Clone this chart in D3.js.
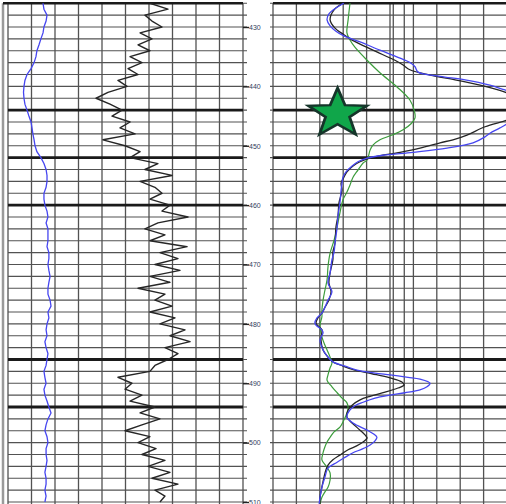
<!DOCTYPE html>
<html>
<head>
<meta charset="utf-8">
<script src="https://cdn.jsdelivr.net/npm/d3@7"></script>
<style>
  html, body { margin: 0; padding: 0; background: #fff; }
  svg { display: block; }
</style>
</head>
<body>
<svg id="log" width="506" height="504"></svg>
<script>
// ---- Depth reference ----
const depthTicks = [430, 440, 450, 460, 470, 480, 490, 500, 510];
const formationTops = [444, 452, 460, 486, 494];

// ---- Track 1: gamma ray (API) and caliper (in), sampled every metre from 426 ----
const logTop = 426;
const gammaRay = [
  90.6, 102.1, 87.4, 91.9, 98.3, 84.3, 91.9, 83.0, 90.6, 77.9,
  85.5, 76.6, 83.0, 70.2, 76.0, 63.8, 56.2, 65.1, 72.8, 66.4,
  77.9, 71.5, 81.1, 60.6, 74.7, 84.3, 77.9, 95.7, 87.4, 104.7,
  84.3, 93.8, 98.3, 90.6, 103.4, 98.3, 114.9, 95.7, 87.4, 100.2,
  90.6, 114.3, 97.0, 108.5, 93.8, 109.8, 90.6, 103.4, 83.0, 100.2,
  93.8, 104.7, 90.6, 106.6, 97.0, 113.0, 103.4, 116.2, 100.2, 108.5,
  102.1, 93.8, 90.6, 70.2, 79.1, 74.7, 85.5, 77.9, 93.8, 84.3,
  97.0, 85.5, 74.7, 90.6, 83.0, 94.5, 85.5, 100.2, 89.4, 103.4,
  91.9, 108.5, 93.8, 100.2, 97.0
];
const caliper = [
  7.49, 7.53, 7.66, 7.62, 7.53, 7.49, 7.40, 7.32, 7.23, 7.19,
  7.11, 6.98, 6.81, 6.72, 6.68, 6.66, 6.68, 6.72, 6.81, 6.89,
  6.98, 7.02, 7.06, 7.11, 7.15, 7.23, 7.40, 7.53, 7.62, 7.66,
  7.66, 7.62, 7.53, 7.53, 7.57, 7.66, 7.70, 7.62, 7.70, 7.70,
  7.70, 7.66, 7.74, 7.74, 7.70, 7.74, 7.79, 7.74, 7.70, 7.70,
  7.79, 7.83, 7.70, 7.74, 7.66, 7.62, 7.66, 7.57, 7.62, 7.70,
  7.66, 7.62, 7.53, 7.57, 7.62, 7.53, 7.57, 7.66, 7.74, 7.83,
  7.70, 7.62, 7.57, 7.66, 7.70, 7.62, 7.62, 7.66, 7.62, 7.57,
  7.62, 7.62, 7.57, 7.62, 7.57
];

// ---- Track 2: resistivity (ohm.m), [depth, value] ----
const deepRes = [
  [426.0, 3.03], [426.8, 2.69], [427.8, 2.39], [428.8, 2.31], [429.8, 2.44],
  [430.7, 2.69], [431.5, 3.03], [432.5, 3.72], [433.9, 4.57], [435.1, 5.34],
  [436.1, 5.90], [436.7, 6.07], [437.6, 6.20], [438.3, 7.14], [438.9, 8.21],
  [439.8, 9.27], [440.6, 9.91], [441.5, 10.77], [442.5, 12.0], [444.5, 11.0],
  [445.3, 10.34], [446.3, 10.0], [447.0, 9.70], [447.9, 9.27], [448.5, 9.06],
  [449.5, 8.55], [450.4, 7.44], [451.1, 5.98], [451.6, 4.70], [452.1, 4.02],
  [452.7, 3.63], [453.4, 3.38], [454.4, 3.12], [455.3, 2.99], [456.3, 2.95],
  [457.5, 2.91], [459.6, 2.86], [461.7, 2.78], [463.7, 2.74], [466.4, 2.65],
  [467.9, 2.61], [469.2, 2.52], [471.4, 2.44], [473.1, 2.35], [474.6, 2.52],
  [476.0, 2.35], [477.2, 2.22], [478.2, 2.09], [479.0, 1.88], [479.9, 1.79],
  [480.5, 1.92], [481.0, 2.09], [481.5, 2.14], [482.7, 2.01], [484.4, 2.14],
  [485.4, 2.31], [486.4, 2.56], [487.1, 3.08], [487.8, 3.59], [488.3, 4.36],
  [488.6, 5.00], [489.0, 5.77], [489.3, 6.28], [490.0, 6.71], [490.6, 6.58],
  [491.1, 6.28], [491.6, 5.64], [492.0, 5.00], [492.5, 4.36], [493.2, 3.85],
  [493.8, 3.50], [494.5, 3.29], [495.7, 3.16], [496.7, 3.42], [497.9, 4.02],
  [498.6, 4.32], [499.1, 4.44], [499.7, 4.36], [500.4, 4.15], [501.1, 3.80],
  [501.7, 3.42], [502.6, 3.03], [503.3, 2.74], [504.3, 2.35], [505.8, 2.22],
  [507.5, 2.09], [509.2, 2.01], [510.3, 1.97]
];
const shallowRes = [
  [426.0, 2.99], [427.1, 2.61], [428.8, 2.44], [430.2, 2.65], [431.2, 2.99],
  [432.2, 3.38], [433.9, 4.27], [435.6, 5.21], [436.4, 5.56], [437.2, 5.85],
  [438.1, 6.71], [438.9, 7.78], [439.8, 8.85], [440.6, 9.62], [441.1, 10.0],
  [442.0, 10.56], [443.5, 11.5], [444.8, 10.56], [445.7, 10.0], [446.8, 9.06],
  [448.2, 8.29], [449.0, 7.69], [449.5, 7.14], [450.4, 6.28], [451.1, 5.43],
  [451.9, 4.27], [452.7, 3.72], [453.4, 3.42], [454.4, 3.16], [455.3, 3.03],
  [456.3, 2.91], [457.5, 2.95], [459.6, 2.82], [461.7, 2.78], [463.7, 2.69],
  [466.4, 2.65], [467.9, 2.56], [469.2, 2.56], [471.4, 2.44], [473.1, 2.39],
  [474.6, 2.48], [476.0, 2.39], [477.2, 2.22], [478.2, 2.09], [479.0, 1.92],
  [479.9, 1.84], [480.5, 1.97], [481.0, 2.09], [482.7, 2.05], [484.4, 2.14],
  [485.4, 2.31], [486.4, 2.56], [487.1, 2.99], [487.8, 3.50], [488.4, 4.23],
  [489.1, 5.00], [489.8, 5.51], [490.3, 5.60], [490.8, 5.34], [491.5, 4.79],
  [492.2, 4.15], [492.8, 3.72], [493.7, 3.38], [494.5, 3.21], [495.7, 3.16],
  [496.7, 3.38], [497.9, 3.72], [498.7, 3.93], [499.2, 4.02], [499.9, 3.85],
  [500.6, 3.55], [501.2, 3.21], [502.1, 2.86], [502.9, 2.56], [503.8, 2.35],
  [504.6, 2.26], [505.8, 2.18], [507.5, 2.09], [509.2, 2.01], [510.3, 2.01]
];
const microRes = [
  [426.0, 3.29], [428.8, 3.21], [431.0, 3.16], [432.2, 3.29], [433.4, 3.50],
  [435.6, 4.02], [437.7, 4.57], [440.1, 5.30], [442.3, 5.85], [444.0, 6.03],
  [445.3, 6.07], [446.3, 5.90], [447.3, 5.56], [448.2, 5.09], [449.0, 4.57],
  [449.9, 4.27], [450.7, 4.15], [452.4, 4.02], [452.9, 3.85], [454.1, 3.63],
  [455.3, 3.42], [456.6, 3.29], [457.8, 3.16], [459.1, 2.99], [461.3, 2.86],
  [463.7, 2.74], [465.9, 2.61], [468.1, 2.44], [470.4, 2.35], [472.6, 2.31],
  [474.3, 2.22], [476.0, 2.14], [477.7, 2.09], [478.8, 2.09], [480.2, 2.01],
  [482.2, 2.09], [483.6, 2.22], [484.4, 2.31], [485.6, 2.44], [486.6, 2.52],
  [487.4, 2.44], [488.6, 2.35], [489.5, 2.31], [490.6, 2.52], [491.6, 2.74],
  [492.5, 2.95], [493.3, 3.16], [494.2, 3.21], [495.0, 3.16], [496.2, 3.03],
  [497.4, 2.86], [498.2, 2.61], [499.1, 2.44], [499.9, 2.31], [500.7, 2.22],
  [501.7, 2.14], [502.9, 2.09], [503.9, 2.26], [505.1, 2.44], [506.3, 2.44],
  [507.5, 2.35], [508.3, 2.22], [509.2, 2.09], [510.3, 2.01]
];

// Marker placed in the resistivity track
const marker = { depth: 444.6, value: 2.76 };

// Grid divisions
const grGrid = [0, 15, 30, 45, 60, 75, 90, 105, 120, 135, 150];
const resGrid = [0, 1, 2, 3, 4, 5, 5.14, 5.61, 6, 7, 8, 9, 10];

// ---- Scales ----
const W = 506, H = 504;
const y = d3.scaleLinear().domain([430, 510]).range([27, 502]);
const xGR = d3.scaleLinear().domain([0, 150]).range([8, 243]);
const xCal = d3.scaleLinear().domain([6, 16]).range([8, 243]);
const xRes = d3.scaleLinear().domain([0, 10]).range([273, 507]);

const svg = d3.select("#log");
svg.append("rect").attr("width", W).attr("height", H).attr("fill", "#fff");

const defs = svg.append("defs");
defs.append("clipPath").attr("id", "clip1")
  .append("rect").attr("x", 8).attr("y", 3).attr("width", 235).attr("height", H);
defs.append("clipPath").attr("id", "clip2")
  .append("rect").attr("x", 273).attr("y", 3).attr("width", W - 273).attr("height", H);

const hLines = d3.range(426, 511, 2);
const gridColor = "#525252";

// ---- Grids ----
function drawTrackGrid(xs, vals, x0, x1) {
  const g = svg.append("g");
  g.selectAll("line.h").data(hLines).join("line")
    .attr("x1", x0).attr("x2", x1)
    .attr("y1", d => y(d)).attr("y2", d => y(d))
    .attr("stroke", gridColor).attr("stroke-width", 1.2);
  g.selectAll("line.v").data(vals).join("line")
    .attr("x1", d => xs(d)).attr("x2", d => xs(d))
    .attr("y1", y(426)).attr("y2", H)
    .attr("stroke", gridColor).attr("stroke-width", 1.3);
  return g;
}
drawTrackGrid(xGR, grGrid, 8, 247);
drawTrackGrid(xRes, resGrid, 270, W);

// Outer left border
svg.append("line").attr("x1", 3).attr("x2", 3).attr("y1", y(426)).attr("y2", H)
  .attr("stroke", "#9a9a9a").attr("stroke-width", 2.5);

// Formation tops
svg.append("g").selectAll("line").data(formationTops).join("line")
  .attr("x1", 8).attr("x2", 243)
  .attr("y1", d => y(d)).attr("y2", d => y(d))
  .attr("stroke", "#1a1a1a").attr("stroke-width", 2.8);
svg.append("g").selectAll("line").data(formationTops).join("line")
  .attr("x1", 273).attr("x2", W)
  .attr("y1", d => y(d)).attr("y2", d => y(d))
  .attr("stroke", "#1a1a1a").attr("stroke-width", 2.8);

// Top border
svg.append("line").attr("x1", 3).attr("x2", 243).attr("y1", y(426)).attr("y2", y(426))
  .attr("stroke", "#1a1a1a").attr("stroke-width", 2.4);
svg.append("line").attr("x1", 273).attr("x2", W).attr("y1", y(426)).attr("y2", y(426))
  .attr("stroke", "#1a1a1a").attr("stroke-width", 2.4);

// ---- Depth axis ----
const axis = d3.axisRight(y).tickValues(depthTicks).tickSize(6).tickPadding(0)
  .tickFormat(d3.format("d"));
const ax = svg.append("g").attr("transform", "translate(243,0)").call(axis);
ax.select(".domain").remove();
ax.selectAll(".tick line").attr("stroke", "#222").attr("stroke-width", 1.4);
ax.selectAll(".tick text")
  .attr("font-family", "Liberation Sans, Arial, sans-serif")
  .attr("font-size", 7)
  .attr("fill", "#34405c");

// ---- Curves ----
const t1 = svg.append("g").attr("clip-path", "url(#clip1)");
const t2 = svg.append("g").attr("clip-path", "url(#clip2)");

const calLine = d3.line().x(d => xCal(d)).y((d, i) => y(logTop + i));
const grLine = d3.line().x(d => xGR(d)).y((d, i) => y(logTop + i));
t1.append("path").datum(caliper).attr("d", calLine)
  .attr("fill", "none").attr("stroke", "#4646f0").attr("stroke-width", 1.3);
t1.append("path").datum(gammaRay).attr("d", grLine)
  .attr("fill", "none").attr("stroke", "#262626").attr("stroke-width", 1.4)
  .attr("stroke-linejoin", "round");

const resLine = d3.line().x(d => xRes(d[1])).y(d => y(d[0])).curve(d3.curveCatmullRom.alpha(0.5));
t2.append("path").datum(microRes).attr("d", resLine)
  .attr("fill", "none").attr("stroke", "#3c9c3c").attr("stroke-width", 1.2);
t2.append("path").datum(shallowRes).attr("d", resLine)
  .attr("fill", "none").attr("stroke", "#262626").attr("stroke-width", 1.3);
t2.append("path").datum(deepRes).attr("d", resLine)
  .attr("fill", "none").attr("stroke", "#4646f0").attr("stroke-width", 1.3);

// ---- Star marker ----
function starPath(R, r) {
  const pts = [];
  for (let k = 0; k < 10; k++) {
    const a = -Math.PI / 2 + k * Math.PI / 5;
    const rad = k % 2 === 0 ? R : r;
    pts.push([rad * Math.cos(a), rad * Math.sin(a)]);
  }
  return d3.line()(pts) + "Z";
}
svg.append("path")
  .attr("d", starPath(28, 11.5))
  .attr("transform", `translate(${xRes(marker.value)},${y(marker.depth)}) scale(1.1,0.92)`)
  .attr("fill", "#10a64a")
  .attr("stroke", "#15352a")
  .attr("stroke-width", 2.6)
  .attr("stroke-linejoin", "miter");
</script>
</body>
</html>
